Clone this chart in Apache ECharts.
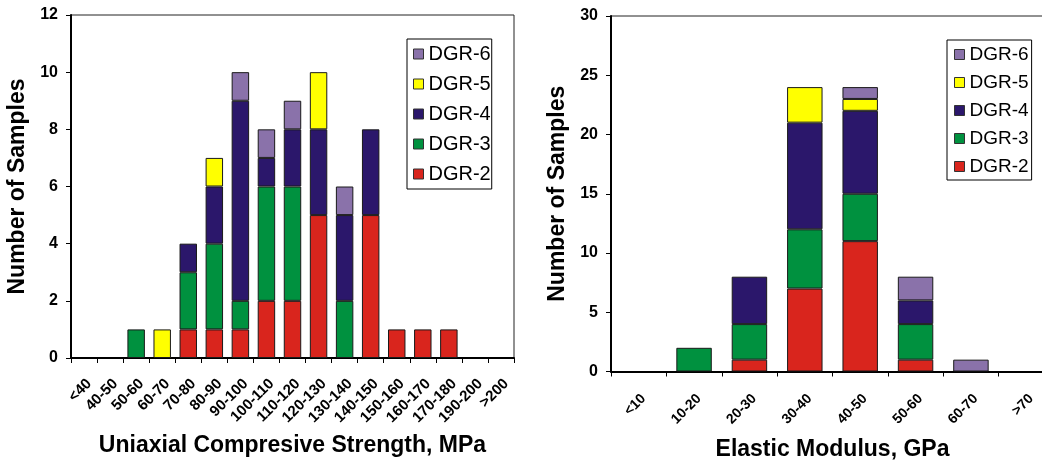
<!DOCTYPE html>
<html>
<head>
<meta charset="utf-8">
<script src="https://cdn.jsdelivr.net/npm/echarts@6/dist/echarts.min.js"></script>
<style>
html,body{margin:0;padding:0;background:#fff;}
#chart{width:1042px;height:461px;}
</style>
</head>
<body>
<div id="chart"></div>
<script>
// ---- Left chart: Uniaxial Compressive Strength ----
var ucsCategories = ['<40','40-50','50-60','60-70','70-80','80-90','90-100','100-110','110-120','120-130','130-140','140-150','150-160','160-170','170-180','190-200','>200'];
var ucsDGR2 = [0,0,0,0,1,1,1,2,2,5,0,5,1,1,1,0,0];
var ucsDGR3 = [0,0,1,0,2,3,1,4,4,0,2,0,0,0,0,0,0];
var ucsDGR4 = [0,0,0,0,1,2,7,1,2,3,3,3,0,0,0,0,0];
var ucsDGR5 = [0,0,0,1,0,1,0,0,0,2,0,0,0,0,0,0,0];
var ucsDGR6 = [0,0,0,0,0,0,1,1,1,0,1,0,0,0,0,0,0];

// ---- Right chart: Elastic Modulus ----
var emCategories = ['<10','10-20','20-30','30-40','40-50','50-60','60-70','>70'];
var emDGR2 = [0,0,1,7,11,1,0,0];
var emDGR3 = [0,2,3,5,4,3,0,0];
var emDGR4 = [0,0,4,9,7,2,0,0];
var emDGR5 = [0,0,0,3,1,0,0,0];
var emDGR6 = [0,0,0,0,1,2,1,0];

var seriesNames = ['DGR-2','DGR-3','DGR-4','DGR-5','DGR-6'];
var legendOrder = ['DGR-6','DGR-5','DGR-4','DGR-3','DGR-2'];
var colors = {'DGR-2':'#D9251D','DGR-3':'#00913F','DGR-4':'#2B176B','DGR-5':'#FFFF00','DGR-6':'#8A72AA'};

var FONT = "'Liberation Sans', Arial, sans-serif";

function nz(arr){ return arr.map(function(v){ return v === 0 ? null : v; }); }

var ucsData = [ucsDGR2, ucsDGR3, ucsDGR4, ucsDGR5, ucsDGR6];
var emData = [emDGR2, emDGR3, emDGR4, emDGR5, emDGR6];

var series = [];
seriesNames.forEach(function(name, i){
  series.push({
    name: name, type: 'bar', stack: 'ucs', xAxisIndex: 0, yAxisIndex: 0,
    barWidth: '67%', data: nz(ucsData[i]),
    itemStyle: {color: colors[name], borderColor: '#1a1a1a', borderWidth: 1}
  });
});
seriesNames.forEach(function(name, i){
  series.push({
    name: name, type: 'bar', stack: 'em', xAxisIndex: 1, yAxisIndex: 1,
    barWidth: '64%', data: nz(emData[i]),
    itemStyle: {color: colors[name], borderColor: '#1a1a1a', borderWidth: 1}
  });
});

function xAxisCfg(idx, cats, title, gap, margin, fs){
  return {
    type: 'category', gridIndex: idx, data: cats,
    name: title, nameLocation: 'middle', nameGap: gap,
    nameTextStyle: {fontFamily: FONT, fontSize: 23, fontWeight: 'bold', color: '#000'},
    axisLine: {lineStyle: {color: '#000', width: 2}},
    axisTick: {show: true, length: 5, lineStyle: {color: '#000', width: 1}},
    axisLabel: {interval: 0, rotate: 45, margin: margin, align: 'right', verticalAlign: 'top',
      fontFamily: FONT, fontSize: fs, fontWeight: 'bold', color: '#000'},
    splitLine: {show: false}
  };
}
function yAxisCfg(idx, max, interval){
  return {
    type: 'value', gridIndex: idx, min: 0, max: max, interval: interval,
    name: 'Number of Samples', nameLocation: 'middle', nameGap: 42,
    nameTextStyle: {fontFamily: FONT, fontSize: 23, fontWeight: 'bold', color: '#000'},
    axisLine: {show: true, lineStyle: {color: '#000', width: 2}},
    axisTick: {show: true, length: 5, lineStyle: {color: '#000', width: 1}},
    axisLabel: {margin: 13, fontFamily: FONT, fontSize: 16, fontWeight: 'bold', color: '#000'},
    splitLine: {show: false}
  };
}

var chart = echarts.init(document.getElementById('chart'), null, {renderer: 'canvas'});
chart.setOption({
  backgroundColor: '#fff',
  animation: false,
  grid: [
    {left: 71, top: 15, width: 443, height: 343, show: true, borderColor: '#222', borderWidth: 1, outerBoundsMode: 'none'},
    {left: 611, top: 16, width: 443, height: 355.5, show: true, borderColor: '#222', borderWidth: 1, outerBoundsMode: 'none'}
  ],
  legend: [
    {data: legendOrder, orient: 'vertical', left: 407, top: 39, padding: [5, 1, 5, 6],
     itemGap: 10, itemWidth: 10, itemHeight: 10, icon: 'rect',
     borderColor: '#000', borderWidth: 1, backgroundColor: '#fff',
     itemStyle: {borderColor: '#333', borderWidth: 1},
     textStyle: {fontFamily: FONT, fontSize: 20, lineHeight: 20, color: '#000'}},
    {data: legendOrder, orient: 'vertical', left: 947, top: 40, padding: [5, 3, 4, 7],
     itemGap: 9, itemWidth: 10, itemHeight: 10, icon: 'rect',
     borderColor: '#000', borderWidth: 1, backgroundColor: '#fff',
     itemStyle: {borderColor: '#333', borderWidth: 1},
     textStyle: {fontFamily: FONT, fontSize: 19, lineHeight: 19, color: '#000'}}
  ],
  xAxis: [
    xAxisCfg(0, ucsCategories, 'Uniaxial Compresive Strength, MPa', 76, 18, 15),
    xAxisCfg(1, emCategories, 'Elastic Modulus, GPa', 67, 20, 14)
  ],
  yAxis: [
    yAxisCfg(0, 12, 2),
    yAxisCfg(1, 30, 5)
  ],
  series: series
});
</script>
</body>
</html>
